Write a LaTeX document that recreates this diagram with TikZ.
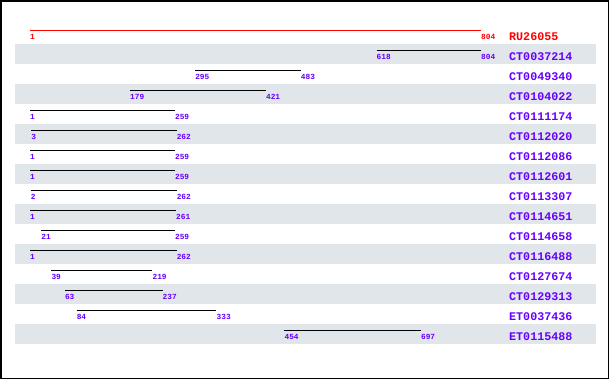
\documentclass[tikz,border=0pt]{standalone}
\usepackage{fontspec}
\setmonofont{Liberation Mono}
\definecolor{hitpurple}{RGB}{102,0,255}
\definecolor{bandgray}{RGB}{225,230,234}
\definecolor{refred}{RGB}{255,0,0}
\begin{document}
\begin{tikzpicture}[x=1pt,y=-1pt,
  numlabel/.style={anchor=west,inner sep=0pt,font=\ttfamily\bfseries\fontsize{7.8}{8}\selectfont},
  namelabel/.style={anchor=west,inner sep=0pt,font=\ttfamily\bfseries\fontsize{11.7}{12}\selectfont},
  hitline/.style={line width=1pt},
  band/.style={fill=bandgray,draw=none}]
\useasboundingbox (0,0) rectangle (610,380);
\fill[white] (0,0) rectangle (610,380);
% gray bands
\foreach \i in {1,3,...,15}{
  \path[band] (15,{24+20*\i}) rectangle (596,{44+20*\i});
}
% reference row
\coordinate (s0) at ({30+(1-1)*0.5616},30);
\coordinate (e0) at ({30+(804-1)*0.5616},30);
\draw[hitline,refred] (s0) -- (e0);
\node[numlabel,text=refred] (a0) at ([yshift=-7pt]s0) {1};
\node[numlabel,text=refred] (b0) at ([yshift=-7pt]e0) {804};
\node[namelabel,text=refred] (n0) at (509,37) {RU26055};
% hit rows
\foreach \i/\s/\e/\nm in {1/618/804/CT0037214,2/295/483/CT0049340,3/179/421/CT0104022,
  4/1/259/CT0111174,5/3/262/CT0112020,6/1/259/CT0112086,7/1/259/CT0112601,
  8/2/262/CT0113307,9/1/261/CT0114651,10/21/259/CT0114658,11/1/262/CT0116488,
  12/39/219/CT0127674,13/63/237/CT0129313,14/84/333/ET0037436,15/454/697/ET0115488}{
  \coordinate (s\i) at ({30+(\s-1)*0.5616},{30+20*\i});
  \coordinate (e\i) at ({30+(\e-1)*0.5616},{30+20*\i});
  \draw[hitline,black] (s\i) -- (e\i);
  \node[numlabel,text=hitpurple] (a\i) at ([yshift=-7pt]s\i) {\s};
  \node[numlabel,text=hitpurple] (b\i) at ([yshift=-7pt]e\i) {\e};
  \node[namelabel,text=hitpurple] (n\i) at (509,{37+20*\i}) {\nm};
}
% frame
\draw[line width=1.5pt,black] (0.75,0.75) rectangle (608.5,378.5);
\end{tikzpicture}
\end{document}
